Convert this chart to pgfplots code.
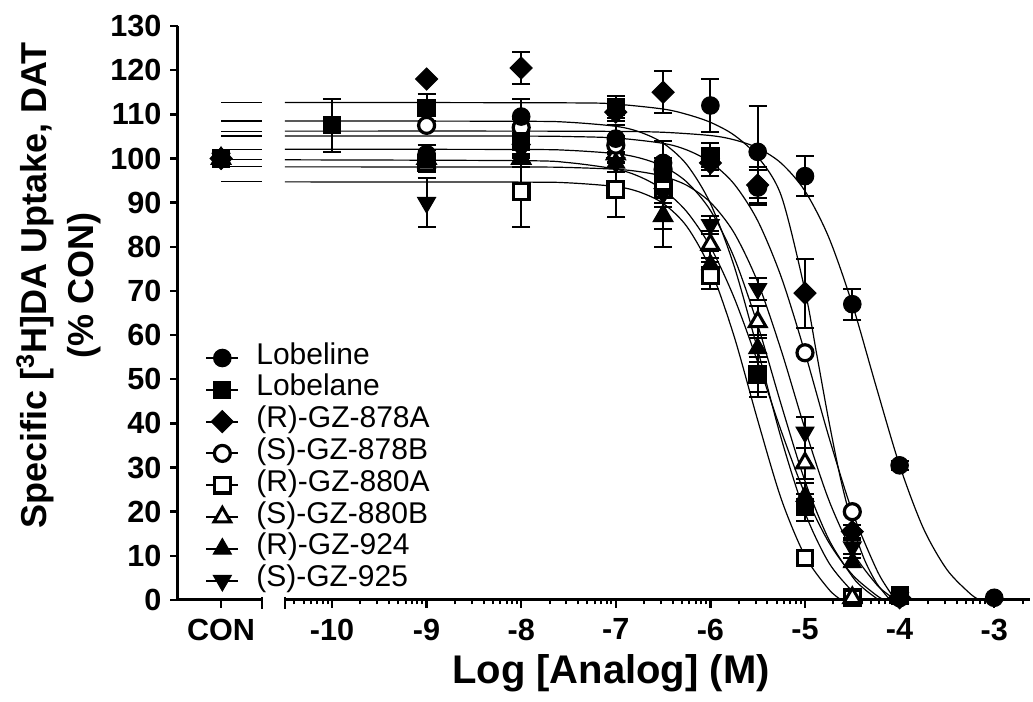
\documentclass[border=0pt]{standalone}
\usepackage{fontspec}
\setmainfont{Liberation Sans}
\usepackage{pgfplots}
\usepackage{pgfplotstable}
\pgfplotsset{compat=1.18}

% ---------- data: x = log[M], CON plotted at -11.173 ----------
\pgfplotstableread{
x y e
-11.173 100 0
-9 101 2
-8 109.5 4
-7 104.5 3
-6.5 99 5
-6 112 6
-5.5 101.5 10.5
-5 96 4.5
-4.5 67 3.5
-4 30.5 1
-3 0.5 0
}\lobeline
\pgfplotstableread{
x y e
-11.173 100 0
-10 107.5 6
-9 111.5 3
-8 104 3
-7 111.7 2.5
-6.5 97 3
-6 100.5 3
-5.5 51 5
-5 21 3
-4 1 0.5
}\lobelane
\pgfplotstableread{
x y e
-11.173 100 0
-9 118 0
-8 120.5 3.7
-7 110.5 2
-6.5 115 4.8
-6 99 3
-5.5 94 4
-5 69.5 7.8
-4.5 15.5 1.5
-4 0.5 0
}\gzA
\pgfplotstableread{
x y e
-11.173 100 0
-9 107.5 0
-8 107 2
-7 103 2
-6.5 97.5 2
-6 100 2
-5.5 93.5 4
-5 56 0
-4.5 20 0
-4 0.5 0
}\gzB
\pgfplotstableread{
x y e
-11.173 100 0
-9 99 2
-8 92.5 8
-7 93 6.3
-6.5 93 4
-6 73.5 3
-5.5 51 4
-5 9.5 0
-4.5 0.5 0
}\gzC
\pgfplotstableread{
x y e
-11.173 100 0
-9 100 2
-8 100 2
-7 101 2
-6.5 87 7
-6 80.5 3
-5.5 63 3.7
-5 31 3.5
-4.5 0.5 0
}\gzD
\pgfplotstableread{
x y e
-11.173 100 0
-9 99 2
-8 100 2
-7 99 2
-6.5 87 3
-6 76 3
-5.5 57 3
-5 23.5 3
-4.5 8.5 1
-4 0.5 0
}\gzE
\pgfplotstableread{
x y e
-11.173 100 0
-9 90 5.5
-8 102 2
-7 99 2
-6.5 92 3
-6 85 2
-5.5 70.5 2.5
-5 38 3.5
-4.5 12 1.5
-4 0.5 0
}\gzF

\pgfplotsset{
  fit/.style={black, line width=0.6pt, smooth, no markers, forget plot},
  pl/.style={black, line width=0.6pt, no markers, forget plot},
  dat/.style={only marks, black, forget plot,
    error bars/y dir=both, error bars/y explicit,
    error bars/error bar style={line width=1pt, black},
    error bars/error mark options={rotate=90, mark size=4.5pt, line width=1pt, black}},
  mLine/.style={mark=*, mark size=4.4pt, mark options={fill=black, line width=0.5pt}},
  mLane/.style={mark=square*, mark size=4.3pt, mark options={fill=black, line width=0.5pt}},
  mA/.style={mark=square*, mark size=3.9pt, mark options={rotate=45, fill=black, line width=0.5pt}},
  mB/.style={mark=*, mark size=4pt, mark options={fill=white, line width=1.6pt}},
  mC/.style={mark=square*, mark size=3.9pt, mark options={fill=white, line width=1.6pt}},
  mD/.style={mark=triangle*, mark size=4.8pt, mark options={fill=white, line width=1.5pt}},
  mE/.style={mark=triangle*, mark size=5.2pt, mark options={fill=black, line width=0.5pt}},
  mF/.style={mark=triangle*, mark size=5.2pt, mark options={rotate=180, fill=black, line width=0.5pt}},
}

\begin{document}
\begin{tikzpicture}
\begin{axis}[
  x=47.3pt, y=2.2075pt,
  xmin=-11.628, xmax=-2.62, ymin=0, ymax=130,
  clip=false,
  axis y line=left, axis x line=bottom,
  x axis line style={draw=none},
  y axis line style={line width=1.5pt, -},
  tick align=outside,
  major tick length=3.8pt, minor tick length=2.2pt,
  tick style={black, line width=1.2pt},
  minor tick style={black, line width=1pt},
  xtick={-11.173,-10,-9,-8,-7,-6,-5,-4,-3},
  xticklabels={CON,-10,-9,-8,-7,-6,-5,-4,-3},
  minor xtick={-10.398,-10.301,-10.222,-10.155,-10.097,-10.046,
    -9.699,-9.523,-9.398,-9.301,-9.222,-9.155,-9.097,-9.046,
    -8.699,-8.523,-8.398,-8.301,-8.222,-8.155,-8.097,-8.046,
    -7.699,-7.523,-7.398,-7.301,-7.222,-7.155,-7.097,-7.046,
    -6.699,-6.523,-6.398,-6.301,-6.222,-6.155,-6.097,-6.046,
    -5.699,-5.523,-5.398,-5.301,-5.222,-5.155,-5.097,-5.046,
    -4.699,-4.523,-4.398,-4.301,-4.222,-4.155,-4.097,-4.046,
    -3.699,-3.523,-3.398,-3.301,-3.222,-3.155,-3.097,-3.046,
    -2.699},
  ytick={0,10,...,130},
  /pgf/number format/assume math mode=true,
  ticklabel style={font=\bfseries\fontsize{15.3}{16}\selectfont},
  xticklabel style={yshift=-2pt},
  yticklabel style={xshift=-1pt},
  legend cell align=left,
  legend image code/.code={\draw[mark repeat=2,mark phase=2,#1] plot coordinates {(0pt,0pt) (8pt,0pt) (16pt,0pt)};},
  legend style={at={(axis cs:-11.343,58.5)}, anchor=north west, draw=none, fill=none,
    inner sep=0pt, row sep=0pt, column sep=8.5pt,
    font=\fontsize{15}{15}\selectfont,
    nodes={inner sep=0pt, text height=11pt, text depth=4.9pt}},
]
% broken x axis
\draw[line width=1.5pt, line cap=rect] (axis cs:-11.628,0) -- (axis cs:-10.74,0);
\draw[line width=1.5pt] (axis cs:-10.497,0) -- (axis cs:-2.62,0);
\draw[line width=1.2pt] (axis cs:-10.74,0) ++(0pt,1.5pt) -- ++(0pt,-6pt);
\draw[line width=1.2pt] (axis cs:-10.497,0) ++(0pt,1.5pt) -- ++(0pt,-6pt);

% plateau lines in the CON segment
\addplot[pl] coordinates {(-11.173,112.7) (-10.74,112.7)};
\addplot[pl] coordinates {(-11.173,108.5) (-10.74,108.5)};
\addplot[pl] coordinates {(-11.173,106.2) (-10.74,106.2)};
\addplot[pl] coordinates {(-11.173,105.1) (-10.74,105.1)};
\addplot[pl] coordinates {(-11.173,102.1) (-10.74,102.1)};
\addplot[pl] coordinates {(-11.173,99.7) (-10.74,99.7)};
\addplot[pl] coordinates {(-11.173,98.1) (-10.74,98.1)};
\addplot[pl] coordinates {(-11.173,94.7) (-10.74,94.7)};

% fitted curves
\addplot[fit] coordinates {(-10.497,106.2) (-8,106.2) (-7,106.13) (-6.5,105.94) (-6,105.2) (-5.75,104.24) (-5.5,102.39) (-5.25,98.9) (-5,92.63) (-4.75,82.2) (-4.5,67.0) (-4.25,48.5) (-4,30.5) (-3.75,16.3) (-3.5,6.89) (-3.25,1.35) (-3.15,0)};
\addplot[fit] coordinates {(-10.497,108.5) (-8,108.43) (-7.5,108.21) (-7,107.29) (-6.75,106.02) (-6.5,103.49) (-6.25,98.62) (-6,89.82) (-5.75,75.68) (-5.5,56.67) (-5.25,36.49) (-5,19.76) (-4.75,8.51) (-4.5,1.97) (-4.38,0)};
\addplot[fit] coordinates {(-10.497,112.7) (-7.5,112.6) (-7,112.3) (-6.5,111.2) (-6.25,110.0) (-6,108.2) (-5.75,105.3) (-5.5,100.4) (-5.25,91.5) (-5,70.06) (-4.875,55.52) (-4.75,40.78) (-4.625,27.59) (-4.5,17.02) (-4.375,9.32) (-4.25,4.04) (-4.125,0.61) (-4.1,0)};
\addplot[fit] coordinates {(-10.497,105.1) (-8,105.07) (-7.5,104.97) (-7,104.64) (-6.5,103.43) (-6.25,101.94) (-6,99.17) (-5.75,94.24) (-5.5,85.90) (-5.25,73.08) (-5,56.0) (-4.75,37.1) (-4.5,20.01) (-4.25,7.20) (-4.125,2.52) (-4.04,0)};
\addplot[fit] coordinates {(-10.497,94.7) (-8,94.65) (-7.5,94.48) (-7,93.64) (-6.75,92.41) (-6.5,89.83) (-6.25,84.62) (-6,74.99) (-5.75,59.77) (-5.5,40.71) (-5.25,22.81) (-5,9.98) (-4.75,2.45) (-4.615,0)};
\addplot[fit] coordinates {(-10.497,102.1) (-8,102.04) (-7.5,101.85) (-7,101.10) (-6.75,100.13) (-6.5,98.25) (-6.25,94.68) (-6,88.24) (-5.75,77.61) (-5.5,62.29) (-5.25,44.13) (-5,26.92) (-4.75,13.79) (-4.5,5.32) (-4.375,2.52) (-4.22,0)};
\addplot[fit] coordinates {(-10.497,99.7) (-8,99.51) (-7.5,99.06) (-7,97.59) (-6.75,95.90) (-6.5,92.94) (-6.25,87.95) (-6,80.0) (-5.75,68.51) (-5.5,53.91) (-5.25,38.19) (-5,24.01) (-4.75,13.12) (-4.5,5.74) (-4.25,1.14) (-4.16,0)};
\addplot[fit] coordinates {(-10.497,98.1) (-8,98.07) (-7.5,97.96) (-7,97.56) (-6.75,97.02) (-6.5,95.97) (-6.25,93.92) (-6,90.07) (-5.75,83.18) (-5.5,72.01) (-5.25,56.44) (-5,38.74) (-4.75,22.74) (-4.5,11.01) (-4.25,3.67) (-4.125,1.29) (-4.04,0)};

% data points
\addplot[dat, mC] table[x=x, y=y, y error=e] {\gzC};
\addplot[dat, mD] table[x=x, y=y, y error=e] {\gzD};
\addplot[dat, mB] table[x=x, y=y, y error=e] {\gzB};
\addplot[dat, mF] table[x=x, y=y, y error=e] {\gzF};
\addplot[dat, mE] table[x=x, y=y, y error=e] {\gzE};
\addplot[dat, mA] table[x=x, y=y, y error=e] {\gzA};
\addplot[dat, mLane] table[x=x, y=y, y error=e] {\lobelane};
\addplot[dat, mLine] table[x=x, y=y, y error=e] {\lobeline};

% legend
\addlegendimage{black, line width=1pt, mLine}\addlegendentry{Lobeline}
\addlegendimage{black, line width=1pt, mLane}\addlegendentry{Lobelane}
\addlegendimage{black, line width=1pt, mA}\addlegendentry{(R)-GZ-878A}
\addlegendimage{black, line width=1pt, mB}\addlegendentry{(S)-GZ-878B}
\addlegendimage{black, line width=1pt, mC}\addlegendentry{(R)-GZ-880A}
\addlegendimage{black, line width=1pt, mD}\addlegendentry{(S)-GZ-880B}
\addlegendimage{black, line width=1pt, mE}\addlegendentry{(R)-GZ-924}
\addlegendimage{black, line width=1pt, mF}\addlegendentry{(S)-GZ-925}

% axis titles
\node[rotate=90, align=center, font=\bfseries\fontsize{18}{23.5}\selectfont] at (axis cs:-12.891,71.3) {Specific [\textsuperscript{3}H]DA Uptake, DAT\\(\% CON)};
\node[font=\bfseries\fontsize{20}{24}\selectfont] at (axis cs:-7.051,-16.5) {Log [Analog] (M)};

\coordinate (BL) at (axis cs:-13.5095,-23.10);
\coordinate (TR) at (axis cs:-2.5898,135.90);
\end{axis}
\pgfresetboundingbox
\path[use as bounding box] (BL) rectangle (TR);
\end{tikzpicture}
\end{document}
